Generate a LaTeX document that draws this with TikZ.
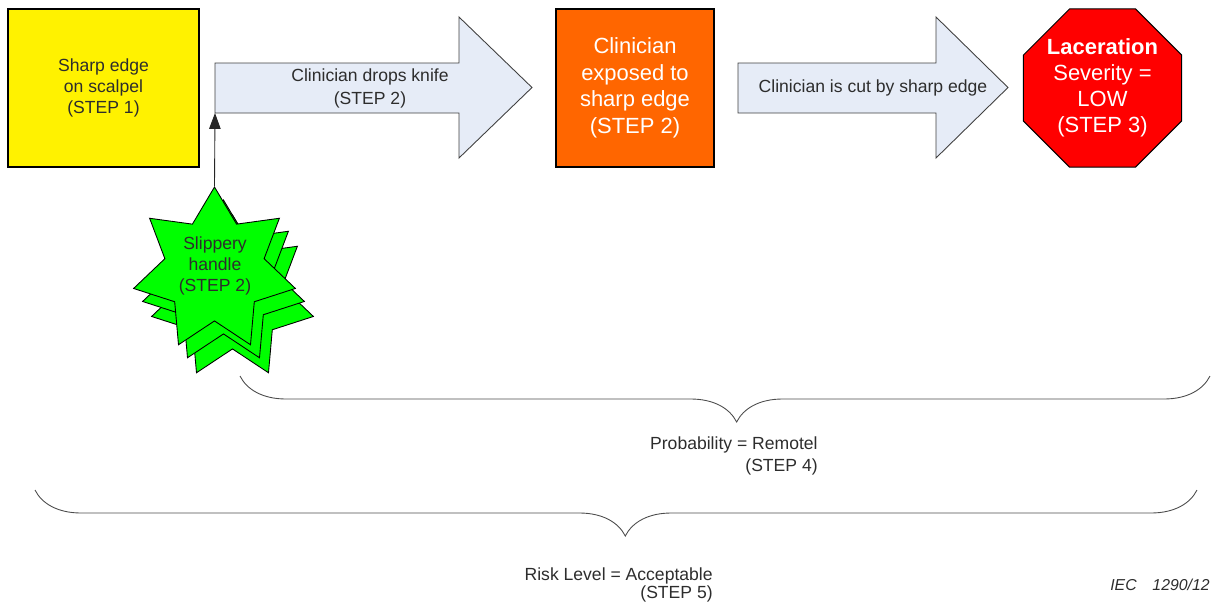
\documentclass[tikz,border=0pt]{standalone}
\usepackage{fontspec}
\setmainfont{Liberation Sans}
\usepackage{tikz}
\usetikzlibrary{arrows.meta,shapes.geometric,decorations.pathreplacing}

\definecolor{flowfill}{RGB}{230,236,247}
\definecolor{txtgrey}{RGB}{45,45,45}
\definecolor{hazorange}{RGB}{255,102,0}

\tikzset{
  box/.style={draw=black, line width=0.6pt, minimum width=3.16cm, minimum height=3.16cm, align=center, inner sep=0pt},
  flow/.style={draw=black!75, fill=flowfill, line width=0.5pt},
  burst/.style={star, star points=7, star point ratio=1.63, minimum size=3.32cm, inner sep=0pt, draw=black, fill=green, line width=0.5pt},
  note/.style={font=\fontsize{10}{12.5}\selectfont, text=txtgrey, align=center, inner sep=0pt},
  bigtxt/.style={font=\fontsize{12.5}{15}\selectfont, text=white},
  bracket/.style={decorate, decoration={brace, mirror, amplitude=0.92cm}, draw=black!70, line width=0.5pt}
}

\begin{document}
\begin{tikzpicture}[x=0.02cm, y=-0.02cm]
	\useasboundingbox (0,0) rectangle (1218,606);

	\node[box, fill=yellow, minimum width=3.82cm, note, font=\fontsize{10}{12.2}\selectfont] (sharp) at (103.5,88) {Sharp edge\\on scalpel\\(STEP 1)};

	\draw[flow] (215,63) -- (459,63) -- (459,17) -- (532,87.5) -- (459,158) -- (459,113) -- (215,113) -- cycle;
	\coordinate (dropbase) at (215,113);
	\node[note, font=\fontsize{10}{13}\selectfont] (drop) at (370,88.5) {Clinician drops knife\\(STEP 2)};

	\node[burst] (slip3) at (232.5,298) {};
	\node[burst] (slip2) at (223.5,283) {};
	\node[burst] (slip1) at (214.5,270) {};
	\node[note, font=\fontsize{10}{11.9}\selectfont] (sliptxt) at (215,266) {Slippery\\handle\\(STEP 2)};
	\draw[black!85, line width=0.5pt, -{Triangle[length=9pt,width=6.5pt]}] (slip1.north) -- (dropbase);

	\node[box, fill=hazorange, bigtxt, font=\fontsize{12.5}{15.1}\selectfont] (exposed) at (635,88) {Clinician\\exposed to\\sharp edge\\(STEP 2)};

	\draw[flow] (738,63) -- (936,63) -- (936,17) -- (1008,87.5) -- (936,158) -- (936,113) -- (738,113) -- cycle;
	\node[note] (cut) at (873,88) {Clinician is cut by sharp edge};

	\node[regular polygon, regular polygon sides=8, minimum size=3.43cm, draw=black, line width=0.6pt, fill=red, inner sep=0pt, align=center, bigtxt, font=\fontsize{12.5}{14.7}\selectfont] (harm) at (1102.5,88) {\textbf{Laceration}\\Severity =\\LOW\\(STEP 3)};

	\draw[bracket, decoration={aspect=0.512}] (240,376) -- (1210,376);
	\node[note, align=right, anchor=east] (prob) at (818,456) {Probability = Remotel\\(STEP 4)};

	\draw[bracket, decoration={aspect=0.508}] (35,490) -- (1197,490);
	\node[note, align=right, anchor=east, font=\fontsize{10}{10.4}\selectfont] (risk) at (713,585) {Risk Level = Acceptable\\(STEP 5)};

	\node[note, anchor=east, font=\fontsize{9}{10}\selectfont\itshape] (iec) at (1210,585) {IEC\hspace{9pt}1290/12};
\end{tikzpicture}
\end{document}
